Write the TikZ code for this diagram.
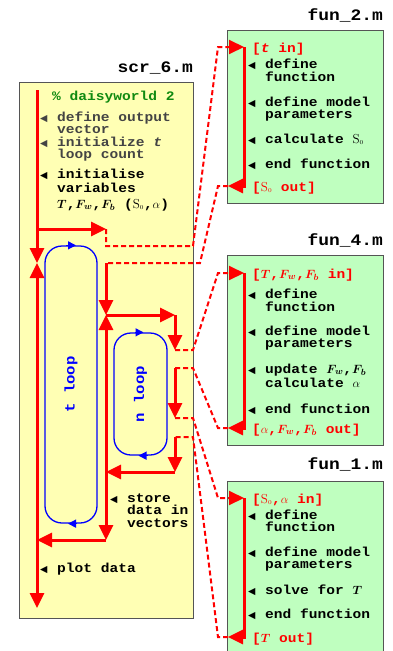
\documentclass[tikz,border=0pt]{standalone}
\usepackage{amsmath}
\usepackage{fontspec}
\newfontfamily\codefont{Liberation Mono}[FakeStretch=1.12]
\newfontfamily\symfont{DejaVu Sans}
\usetikzlibrary{arrows.meta,positioning}

\definecolor{scrfill}{HTML}{FFFFB4}
\definecolor{funfill}{HTML}{BFFFBF}
\definecolor{boxline}{HTML}{555555}
\definecolor{cmtgreen}{HTML}{108A10}
\definecolor{softtext}{HTML}{444444}

\newcommand{\codesize}[1]{\codefont\bfseries\fontsize{13}{#1}\selectfont\lineskiplimit=-20pt}
\newcommand{\bul}{\makebox[17pt][l]{\symfont\fontsize{9.5}{9.5}\selectfont ◀}}
\newcommand{\ind}{\hspace*{17pt}}
\newcommand{\bT}{$\boldsymbol{T}$}
\newcommand{\bFw}{$\boldsymbol{F}_{\!\boldsymbol{w}}$}
\newcommand{\bFb}{$\boldsymbol{F}_{\!\boldsymbol{b}}$}
\newcommand{\Szero}{\textrm{\mdseries S}$_{\scriptscriptstyle 0}$}

\begin{document}
\begin{tikzpicture}[
    x=1pt, y=-1pt,
    every node/.style={inner sep=0pt},
    scrbox/.style={draw=boxline, fill=scrfill, line width=1pt, anchor=north west},
    funbox/.style={draw=boxline, fill=funfill, line width=1pt, anchor=north west,
      minimum width=156pt},
    title/.style={anchor=base east, font=\codefont\bfseries\fontsize{16}{16}\selectfont},
    note/.style={anchor=base west, align=left, font=\codesize{12}},
    portlabel/.style={note, text=red},
    loopbox/.style={draw=blue, line width=1.3pt, rounded corners=17pt},
    looplabel/.style={text=blue, rotate=90, font=\codefont\bfseries\fontsize{14}{14}\selectfont},
    looptip/.style={blue, line width=1.3pt, -{Triangle[length=8pt,width=8pt]}},
    flow/.style={red, line width=3pt, -{Triangle[length=15pt,width=14pt]}},
    link/.style={red, line width=2pt, dash pattern=on 5pt off 3pt},
    linkin/.style={link, -{Triangle[length=15pt,width=14pt]}}
  ]
    \useasboundingbox (0,0) rectangle (393,651);
    \clip (0,0) rectangle (393,651);

    \node[scrbox, minimum width=174pt, minimum height=536pt] (scr) at (19,82) {};
    \node[funbox, minimum height=173pt] (fun2) at (227,30) {};
    \node[funbox, minimum height=190pt] (fun4) at (227,255) {};
    \node[funbox, minimum height=175pt] (fun1) at (227,481) {};

    \node[title] (scrname) at (193,72) {scr\_6.m};
    \node[title] (fun2name) at (383,20) {fun\_2.m};
    \node[title] (fun4name) at (383,245) {fun\_4.m};
    \node[title] (fun1name) at (383,469) {fun\_1.m};

    \node[loopbox, minimum width=52pt, minimum height=277pt] (tloop) at (71,384.5) {};
    \node[looplabel] (tlooptext) at (tloop.center) {t loop};
    \node[loopbox, minimum width=53pt, minimum height=122pt] (nloop) at (140.5,394) {};
    \node[looplabel] (nlooptext) at (nloop.center) {n loop};
    \draw[looptip] ([xshift=-5pt]tloop.north) -- ([xshift=5pt]tloop.north);
    \draw[looptip] ([xshift=6pt]tloop.south) -- ([xshift=-3pt]tloop.south);
    \draw[looptip] ([xshift=-6pt]nloop.north) -- ([xshift=3pt]nloop.north);
    \draw[looptip] ([xshift=7pt]nloop.south) -- ([xshift=-2pt]nloop.south);

    \coordinate (top) at (37,90);
    \coordinate (tin) at (37,263);
    \coordinate (tout) at (37,540);
    \coordinate (bot) at (37,608);
    \coordinate (br0) at (37,229);
    \coordinate (br1) at (106,229);
    \coordinate (br2) at (106,246);
    \coordinate (br3) at (193,246);
    \coordinate (nin0) at (106,263);
    \coordinate (nin) at (106,315);
    \coordinate (nout) at (106,472);
    \coordinate (nend) at (106,540);
    \coordinate (r0) at (175,315);
    \coordinate (r1) at (175,350);
    \coordinate (r2) at (193,350);
    \coordinate (r3) at (193,368);
    \coordinate (r4) at (175,368);
    \coordinate (r5) at (175,418);
    \coordinate (r6) at (193,418);
    \coordinate (r7) at (193,437);
    \coordinate (r8) at (175,437);
    \coordinate (r9) at (175,472);

    \coordinate (f2pre) at (218,47);
    \coordinate (f2in) at (244,47);
    \coordinate (f2end) at (244,186);
    \coordinate (f2out) at (228,186);
    \coordinate (f2ret) at (218,186);
    \coordinate (f2mid) at (200,263);
    \coordinate (f4pre) at (218,273);
    \coordinate (f4in) at (244,273);
    \coordinate (f4end) at (244,428);
    \coordinate (f4out) at (228,428);
    \coordinate (f4ret) at (218,428);
    \coordinate (f1pre) at (218,498);
    \coordinate (f1in) at (244,498);
    \coordinate (f1end) at (244,637);
    \coordinate (f1out) at (228,637);
    \coordinate (f1ret) at (218,637);

    \draw[flow] (top) -- (tin);
    \draw[flow] (tout) -- (tin);
    \draw[flow] (tout) -- (bot);
    \draw[flow] (br0) -- (br1);
    \draw[flow] (nin0) -- (nin);
    \draw[flow] (nout) -- (nin);
    \draw[flow] (nout) -- (nend);
    \draw[flow] (nend) -- (tout);
    \draw[flow] (nin) -- (r0);
    \draw[flow] (r0) -- (r1);
    \draw[flow] (r4) -- (r5);
    \draw[flow] (r8) -- (r9);
    \draw[flow] (r9) -- (nout);

    \draw[flow] (f2in) -- (f2end) -- (f2out);
    \draw[flow] (f4in) -- (f4end) -- (f4out);
    \draw[flow] (f1in) -- (f1end) -- (f1out);

    \draw[linkin] (br1) -- (br2) -- (br3) -- (f2pre) -- (f2in);
    \draw[link] (f2out) -- (f2ret) -- (f2mid) -- (nin0);
    \draw[linkin] (r1) -- (r2) -- (f4pre) -- (f4in);
    \draw[link] (f4out) -- (f4ret) -- (r3) -- (r4);
    \draw[linkin] (r5) -- (r6) -- (f1pre) -- (f1in);
    \draw[link] (f1out) -- (f1ret) -- (r7) -- (r8);

    % multi-line notes sit on the baseline of their last line
    \node[note, text=cmtgreen] (cmt) at (52,100) {\%~daisyworld~2};
    \node[note, text=softtext] (outvec) at (40,133) {\bul define output\\\ind vector};
    \node[note, text=softtext] (tcount) at (40,158) {\bul initialize \textit{t}\\\ind loop count};
    \node[note, font=\codesize{14}] (initvar) at (40,208)
      {\bul initialise\\\ind variables\\[2pt]\ind \bT,\bFw,\bFb{} (\Szero,$\alpha$)};
    \node[note, font=\codesize{12.5}] (store) at (110,527) {\bul store\\\ind data in\\\ind vectors};
    \node[note] (plot) at (40,572) {\bul plot data};

    \node[portlabel] (f2intext) at (252,52) {[\textit{t} in]};
    \node[note, font=\codesize{13}] (f2def) at (248,81) {\bul define\\\ind function};
    \node[note] (f2par) at (248,118) {\bul define model\\\ind parameters};
    \node[note] (f2calc) at (248,143) {\bul calculate \Szero};
    \node[note] (f2stop) at (248,168) {\bul end function};
    \node[portlabel] (f2outtext) at (252,191) {[\Szero{} out]};

    \node[portlabel] (f4intext) at (252,278) {[\bT,\bFw,\bFb{} in]};
    \node[note, font=\codesize{13}] (f4def) at (248,311) {\bul define\\\ind function};
    \node[note] (f4par) at (248,347) {\bul define model\\\ind parameters};
    \node[note, font=\codesize{14}] (f4upd) at (248,387) {\bul update \bFw,\bFb\\\ind calculate $\alpha$};
    \node[note] (f4stop) at (248,413) {\bul end function};
    \node[portlabel] (f4outtext) at (252,433) {[$\alpha$,\bFw,\bFb{} out]};

    \node[portlabel] (f1intext) at (252,503) {[\Szero,$\alpha$ in]};
    \node[note] (f1def) at (248,531) {\bul define\\\ind function};
    \node[note] (f1par) at (248,568) {\bul define model\\\ind parameters};
    \node[note] (f1solve) at (248,594) {\bul solve for \bT};
    \node[note] (f1stop) at (248,618) {\bul end function};
    \node[portlabel] (f1outtext) at (252,642) {[\bT{} out]};
\end{tikzpicture}
\end{document}
